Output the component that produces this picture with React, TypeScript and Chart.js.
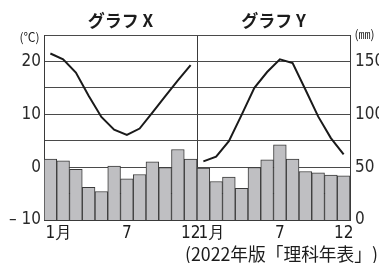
import React, { useEffect, useRef } from 'react';
import { Chart, registerables } from 'chart.js';

Chart.register(...registerables);

const monthLabels = ['1月', '', '', '', '', '', '7', '', '', '', '', '12', '1月', '', '', '', '', '', '7', '', '', '', '', '12'];
const panelTitles = ['グラフ X', 'グラフ Y'];
const tempX = [21.5, 20.4, 17.9, 13.5, 9.5, 7.1, 6.1, 7.3, 10.3, 13.4, 16.4, 19.3];
const tempY = [1.1, 2.0, 4.9, 9.9, 15.0, 18.0, 20.4, 19.7, 14.7, 9.6, 5.5, 2.4];
const precipX = [57.6, 56, 48, 31, 27, 51, 39, 43, 55, 49.6, 66.7, 57.6];
const precipY = [49, 36.4, 40.5, 30, 49.7, 57, 71, 57.6, 45.9, 44.6, 42.4, 41.8];
const leftTicks = [20, 10, 0, -10];
const rightTicks = [0, 50, 100, 150];
const leftUnit = '(℃)';
const rightUnit = '(㎜)';
const sourceNote = '(2022年版「理科年表」)';

const NUM_FONT = "'Liberation Sans Narrow', 'DejaVu Sans Condensed', 'Roboto Condensed', 'Liberation Sans', sans-serif";
const JP_FONT = "'Noto Sans CJK JP', 'Noto Sans', sans-serif";

const nulls = (n: number) => Array.from({ length: n }, () => null as number | null);

const decor = {
  id: 'decor',
  afterDraw(chart: any) {
    const { ctx, scales, chartArea } = chart;
    const x = scales.x;
    ctx.save();
    ctx.fillStyle = '#1c1c1c';
    ctx.textBaseline = 'middle';
    // panel titles
    ctx.font = `700 17px ${JP_FONT}`;
    ctx.textAlign = 'center';
    ctx.fillText(panelTitles[0], x.getPixelForValue(5.5), 21);
    ctx.fillText(panelTitles[1], x.getPixelForValue(17.5), 21);
    // units
    ctx.font = `12px ${JP_FONT}`;
    ctx.fillText(leftUnit, 29.5, 37);
    ctx.fillText(rightUnit, 364.5, 34);
    // x labels
    ctx.font = `17px ${NUM_FONT}`;
    monthLabels.forEach((lab, i) => {
      if (!lab) return;
      const px = x.getPixelForValue(i);
      const first = lab !== '12' && lab.charAt(0) === '1' && lab.length > 1 ? '1' : lab;
      const w = ctx.measureText(first).width;
      ctx.textAlign = 'left';
      ctx.fillText(lab, px - w / 2, chartArea.bottom + 14);
    });
    // source
    ctx.font = `18px ${JP_FONT}`;
    ctx.textAlign = 'right';
    ctx.fillText(sourceNote, 378, 254, 193);
    ctx.restore();
  },
};

export default function App() {
  const ref = useRef<HTMLCanvasElement>(null);
  useEffect(() => {
    if (!ref.current) return;
    const chart = new Chart(ref.current, {
      data: {
        labels: monthLabels,
        datasets: [
          {
            type: 'line',
            data: [...tempX, ...nulls(12)],
            yAxisID: 'y',
            borderColor: '#1a1a1a',
            borderWidth: 2,
            pointRadius: 0,
            tension: 0,
            spanGaps: false,
            order: 0,
          },
          {
            type: 'line',
            data: [...nulls(12), ...tempY],
            yAxisID: 'y',
            borderColor: '#1a1a1a',
            borderWidth: 2,
            pointRadius: 0,
            tension: 0,
            spanGaps: false,
            order: 0,
          },
          {
            type: 'bar',
            data: [...precipX, ...precipY],
            yAxisID: 'y1',
            backgroundColor: '#bfbfc2',
            borderColor: '#3a3a3a',
            borderWidth: 1,
            barPercentage: 1,
            categoryPercentage: 1,
            order: 1,
          },
        ],
      } as any,
      options: {
        responsive: false,
        animation: false,
        devicePixelRatio: 1,
        layout: { padding: { top: 35, left: 0, right: 0, bottom: 0 } },
        plugins: { legend: { display: false }, tooltip: { enabled: false } },
        scales: {
          x: {
            type: 'category',
            offset: true,
            grid: {
              offset: true,
              drawTicks: false,
              color: (c: any) => (c.index === 12 ? '#3a3a3a' : 'rgba(0,0,0,0)'),
              lineWidth: 1,
            },
            border: { display: true, color: '#3a3a3a', width: 1 },
            ticks: { display: false },
            afterFit: (s: any) => { s.height = 43; },
          },
          y: {
            position: 'left',
            min: -10,
            max: 25,
            afterBuildTicks: (s: any) => {
              s.ticks = [-10, -5, 0, 5, 10, 15, 20, 25].map((v) => ({ value: v }));
            },
            grid: { drawTicks: false, color: '#4a4a4a', lineWidth: 1 },
            border: { display: true, color: '#3a3a3a', width: 1 },
            ticks: {
              padding: 3,
              color: '#2a2a2a',
              font: { family: NUM_FONT, size: 17 },
              callback: (v: any) => (leftTicks.includes(v) ? (v < 0 ? '– ' + Math.abs(v) : String(v)) : ''),
            },
            afterFit: (s: any) => { s.width = 44; },
          },
          y1: {
            position: 'right',
            min: 0,
            max: 175,
            afterBuildTicks: (s: any) => {
              s.ticks = rightTicks.map((v) => ({ value: v }));
            },
            grid: { display: false, drawTicks: false },
            border: { display: true, color: '#3a3a3a', width: 1 },
            ticks: {
              padding: 5,
              color: '#2a2a2a',
              font: { family: NUM_FONT, size: 17 },
              callback: (v: any) => String(v),
            },
            afterFit: (s: any) => { s.width = 29; },
          },
        },
      } as any,
      plugins: [decor],
    });
    return () => chart.destroy();
  }, []);
  return (
    <div style={{ position: 'fixed', left: 0, top: 0, width: 379, height: 263, background: '#fff' }}>
      <canvas ref={ref} width={379} height={263} style={{ width: 379, height: 263, display: 'block' }} />
    </div>
  );
}
